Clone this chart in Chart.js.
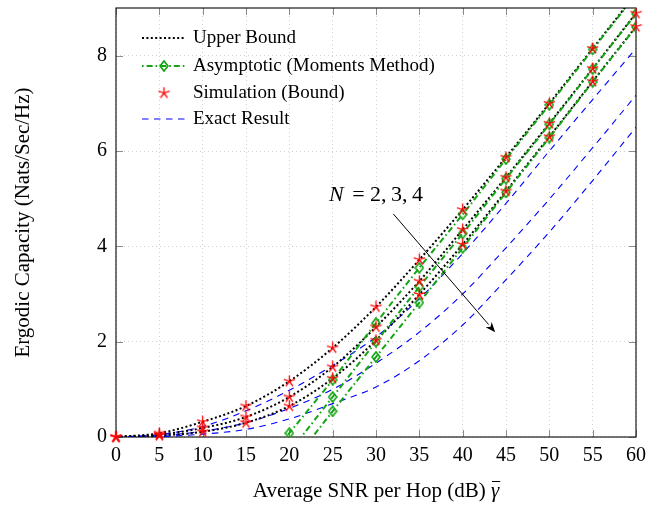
<!DOCTYPE html>
<html>
<head>
<meta charset="utf-8">
<script src="https://cdn.jsdelivr.net/npm/chart.js@4.4.1/dist/chart.umd.min.js"></script>
<style>
  html, body { margin: 0; padding: 0; background: #fff; }
  #wrap { width: 665px; height: 512px; }
</style>
</head>
<body>
<div id="wrap"><canvas id="chart" width="665" height="512"></canvas></div>
<script>
// values (SNR in dB, capacity in nats/s/Hz)
const snrDb = [0, 5, 10, 15, 20, 25, 30, 35, 40, 45, 50, 55, 60];

const upperBoundN2 = [0, 0.08, 0.32, 0.65, 1.17, 1.87, 2.73, 3.72, 4.77, 5.87, 7.00, 8.15, 9.30];
const upperBoundN3 = [0, 0.05, 0.19, 0.42, 0.84, 1.47, 2.31, 3.27, 4.35, 5.45, 6.58, 7.73, 8.89];
const upperBoundN4 = [0, 0.03, 0.11, 0.30, 0.65, 1.23, 2.03, 2.99, 4.04, 5.16, 6.30, 7.46, 8.61];

const simulationN2 = [0, 0.08, 0.32, 0.65, 1.17, 1.87, 2.73, 3.72, 4.77, 5.87, 7.00, 8.15, 9.30];
const simulationN3 = [0, 0.05, 0.19, 0.42, 0.84, 1.47, 2.31, 3.27, 4.35, 5.45, 6.58, 7.73, 8.89];
const simulationN4 = [0, 0.03, 0.11, 0.30, 0.65, 1.23, 2.03, 2.99, 4.04, 5.16, 6.30, 7.46, 8.61];

const asymptoticSnrN2 = [15, 20, 25, 30, 35, 40, 45, 50, 55, 60];
const asymptoticN2 = [-1.07, 0.08, 1.20, 2.39, 3.55, 4.67, 5.83, 6.97, 8.13, 9.28];
const asymptoticSnrN34 = [20, 25, 30, 35, 40, 45, 50, 55, 60];
const asymptoticN3 = [-0.32, 0.84, 2.00, 3.15, 4.27, 5.42, 6.56, 7.72, 8.88];
const asymptoticN4 = [-0.62, 0.54, 1.68, 2.82, 3.97, 5.13, 6.28, 7.45, 8.60];

const exactN2 = [0, 0.05, 0.22, 0.55, 0.98, 1.50, 2.10, 2.90, 3.85, 4.90, 6.00, 7.08, 8.15];
const exactN3 = [0, 0.03, 0.12, 0.30, 0.60, 1.00, 1.55, 2.20, 3.00, 3.97, 4.99, 6.07, 7.17];
const exactN4 = [0, 0.01, 0.06, 0.16, 0.38, 0.70, 1.05, 1.60, 2.35, 3.30, 4.30, 5.38, 6.50];

const xTickValues = [0, 5, 10, 15, 20, 25, 30, 35, 40, 45, 50, 55, 60];
const yTickValues = [0, 2, 4, 6, 8];

// annotation arrow, in data units
const arrowFrom = { x: 32.0, y: 4.68 };
const arrowTo = { x: 43.75, y: 2.2 };
const arrowLabelAt = { x: 30.0, y: 5.1 };

const serif = '"Liberation Serif", "DejaVu Serif", serif';
const GREEN = 'rgb(20,165,20)';
const BLUE = 'rgb(0,0,255)';
const RED = 'rgb(255,0,0)';

const pts = (xs, ys) => xs.map((x, i) => ({ x: x, y: ys[i] }));

function makeStar(size, color) {
    const c = document.createElement('canvas');
    c.width = c.height = size;
    const g = c.getContext('2d');
    const m = size / 2, r = size / 2 - 0.6;
    g.strokeStyle = color;
    g.lineWidth = 1.3;
    g.beginPath();
    for (let k = 0; k < 5; k++) {
        const a = -Math.PI / 2 + k * 2 * Math.PI / 5;
        g.moveTo(m, m);
        g.lineTo(m + r * Math.cos(a), m + r * Math.sin(a));
    }
    g.stroke();
    return c;
}

function makeDiamond(w, h, color) {
    const c = document.createElement('canvas');
    c.width = w; c.height = h;
    const g = c.getContext('2d');
    g.strokeStyle = color;
    g.lineWidth = 1.7;
    g.beginPath();
    g.moveTo(w / 2, 1); g.lineTo(w - 1, h / 2); g.lineTo(w / 2, h - 1); g.lineTo(1, h / 2);
    g.closePath();
    g.stroke();
    return c;
}

const starMark = makeStar(13, RED);
const diamondMark = makeDiamond(10, 12, GREEN);

const boundStyle = { borderColor: '#000', borderWidth: 2, borderDash: [2, 2.4], pointRadius: 0 };
const asymStyle = { borderColor: GREEN, borderWidth: 2, borderDash: [6, 3, 1.6, 3], pointStyle: diamondMark, pointRadius: 5 };
const exactStyle = { borderColor: BLUE, borderWidth: 1.1, borderDash: [6.5, 5.5], pointRadius: 0 };
const simStyle = { showLine: false, pointStyle: starMark, pointRadius: 5, clip: { left: 8, top: 0, right: 8, bottom: 8 } };

const datasets = [
    Object.assign({ label: 'sim2', data: pts(snrDb, simulationN2), order: 1 }, simStyle),
    Object.assign({ label: 'sim3', data: pts(snrDb, simulationN3), order: 1 }, simStyle),
    Object.assign({ label: 'sim4', data: pts(snrDb, simulationN4), order: 1 }, simStyle),
    Object.assign({ label: 'asy2', data: pts(asymptoticSnrN2, asymptoticN2), order: 2 }, asymStyle),
    Object.assign({ label: 'asy3', data: pts(asymptoticSnrN34, asymptoticN3), order: 2 }, asymStyle),
    Object.assign({ label: 'asy4', data: pts(asymptoticSnrN34, asymptoticN4), order: 2 }, asymStyle),
    Object.assign({ label: 'ub2', data: pts(snrDb, upperBoundN2), order: 3 }, boundStyle),
    Object.assign({ label: 'ub3', data: pts(snrDb, upperBoundN3), order: 3 }, boundStyle),
    Object.assign({ label: 'ub4', data: pts(snrDb, upperBoundN4), order: 3 }, boundStyle),
    Object.assign({ label: 'ex2', data: pts(snrDb, exactN2), order: 4 }, exactStyle),
    Object.assign({ label: 'ex3', data: pts(snrDb, exactN3), order: 4 }, exactStyle),
    Object.assign({ label: 'ex4', data: pts(snrDb, exactN4), order: 4 }, exactStyle),
];

// frame with inward ticks, like pgfplots
const framePlugin = {
    id: 'frame',
    beforeDatasetsDraw(chart) {
        const { ctx, chartArea: a, scales } = chart;
        ctx.save();
        ctx.strokeStyle = '#8c8c8c';
        ctx.lineWidth = 1;
        const len = 7;
        ctx.beginPath();
        xTickValues.forEach(v => {
            const px = Math.round(scales.x.getPixelForValue(v)) + 0.5;
            ctx.moveTo(px, a.bottom); ctx.lineTo(px, a.bottom - len);
            ctx.moveTo(px, a.top); ctx.lineTo(px, a.top + len);
        });
        yTickValues.forEach(v => {
            const py = Math.round(scales.y.getPixelForValue(v)) + 0.5;
            ctx.moveTo(a.left, py); ctx.lineTo(a.left + len, py);
            ctx.moveTo(a.right, py); ctx.lineTo(a.right - len, py);
        });
        ctx.stroke();
        ctx.strokeStyle = '#1a1a1a';
        ctx.lineWidth = 1.2;
        ctx.strokeRect(a.left, a.top, a.right - a.left, a.bottom - a.top);
        ctx.restore();
    }
};

const overlayPlugin = {
    id: 'overlay',
    afterDraw(chart) {
        const { ctx, chartArea: a, scales } = chart;
        ctx.save();

        // legend
        const x0 = a.left + 26, x1 = a.left + 70, xm = (x0 + x1) / 2, tx = a.left + 77;
        const rows = [a.top + 30, a.top + 58, a.top + 85, a.top + 111];
        ctx.font = '19px ' + serif;
        ctx.fillStyle = '#000';
        ctx.textBaseline = 'middle';
        ctx.textAlign = 'left';

        ctx.strokeStyle = '#000'; ctx.lineWidth = 2; ctx.setLineDash([2, 2.4]);
        ctx.beginPath(); ctx.moveTo(x0, rows[0]); ctx.lineTo(x1, rows[0]); ctx.stroke();
        ctx.fillText('Upper Bound', tx, rows[0]);

        ctx.strokeStyle = GREEN; ctx.lineWidth = 2; ctx.setLineDash([6, 3, 1.6, 3]); ctx.lineDashOffset = 9;
        ctx.beginPath(); ctx.moveTo(x0, rows[1]); ctx.lineTo(x1, rows[1]); ctx.stroke();
        ctx.setLineDash([]); ctx.lineDashOffset = 0;
        ctx.drawImage(diamondMark, xm - diamondMark.width / 2, rows[1] - diamondMark.height / 2);
        ctx.fillText('Asymptotic (Moments Method)', tx, rows[1]);

        ctx.drawImage(starMark, xm - starMark.width / 2, rows[2] - starMark.height / 2);
        ctx.fillText('Simulation (Bound)', tx, rows[2]);

        ctx.strokeStyle = BLUE; ctx.lineWidth = 1.1; ctx.setLineDash([6.5, 5.5]);
        ctx.beginPath(); ctx.moveTo(x0, rows[3]); ctx.lineTo(x1, rows[3]); ctx.stroke();
        ctx.setLineDash([]);
        ctx.fillText('Exact Result', tx, rows[3]);

        // x axis title with an overlined gamma
        ctx.font = '21px ' + serif;
        ctx.textBaseline = 'alphabetic';
        const main = 'Average SNR per Hop (dB) ';
        const wMain = ctx.measureText(main).width;
        ctx.font = 'italic 21px ' + serif;
        const wG = ctx.measureText('\u03B3').width;
        const tX = (a.left + a.right) / 2 - (wMain + wG) / 2, tY = 497;
        ctx.font = '21px ' + serif;
        ctx.fillText(main, tX, tY);
        ctx.font = 'italic 21px ' + serif;
        ctx.fillText('\u03B3', tX + wMain, tY);
        ctx.strokeStyle = '#000'; ctx.lineWidth = 1;
        ctx.beginPath();
        ctx.moveTo(tX + wMain + 1, tY - 15.5); ctx.lineTo(tX + wMain + wG + 1, tY - 15.5);
        ctx.stroke();

        // N = 2, 3, 4 label and arrow
        const lx = scales.x.getPixelForValue(arrowLabelAt.x);
        const ly = scales.y.getPixelForValue(arrowLabelAt.y);
        ctx.font = 'italic 22px ' + serif;
        const wN = ctx.measureText('N').width;
        ctx.font = '22px ' + serif;
        const rest = '\u2009= 2,\u20093,\u20094';
        const wR = ctx.measureText(rest).width + 4;
        const sx = lx - (wN + wR) / 2;
        ctx.font = 'italic 22px ' + serif;
        ctx.fillText('N', sx, ly + 7);
        ctx.font = '22px ' + serif;
        ctx.fillText(rest, sx + wN + 4, ly + 7);

        const ax0 = scales.x.getPixelForValue(arrowFrom.x), ay0 = scales.y.getPixelForValue(arrowFrom.y);
        const ax1 = scales.x.getPixelForValue(arrowTo.x), ay1 = scales.y.getPixelForValue(arrowTo.y);
        const ang = Math.atan2(ay1 - ay0, ax1 - ax0);
        const hl = 10, hw = 4;
        ctx.strokeStyle = '#000'; ctx.lineWidth = 1;
        ctx.beginPath();
        ctx.moveTo(ax0, ay0);
        ctx.lineTo(ax1 - hl * Math.cos(ang), ay1 - hl * Math.sin(ang));
        ctx.stroke();
        ctx.fillStyle = '#000';
        ctx.beginPath();
        ctx.moveTo(ax1, ay1);
        ctx.lineTo(ax1 - hl * Math.cos(ang) + hw * Math.sin(ang), ay1 - hl * Math.sin(ang) - hw * Math.cos(ang));
        ctx.lineTo(ax1 - hl * 0.7 * Math.cos(ang), ay1 - hl * 0.7 * Math.sin(ang));
        ctx.lineTo(ax1 - hl * Math.cos(ang) - hw * Math.sin(ang), ay1 - hl * Math.sin(ang) + hw * Math.cos(ang));
        ctx.closePath();
        ctx.fill();

        ctx.restore();
    }
};

new Chart(document.getElementById('chart'), {
    type: 'line',
    data: { datasets: datasets },
    options: {
        responsive: false,
        animation: false,
        layout: { padding: { top: 8, right: 29, left: 0, bottom: 0 } },
        elements: { line: { cubicInterpolationMode: 'monotone', fill: false } },
        plugins: { legend: { display: false }, tooltip: { enabled: false } },
        scales: {
            x: {
                type: 'linear', min: 0, max: 60,
                afterBuildTicks: s => { s.ticks = xTickValues.map(v => ({ value: v })); },
                afterFit: s => { s.height = 75; s.paddingLeft = 0; s.paddingRight = 0; },
                ticks: { font: { family: serif, size: 20 }, color: '#000', padding: 7, maxRotation: 0 },
                grid: { color: '#c4c4c4', lineWidth: 0.8, drawTicks: false },
                border: { display: false, dash: [1, 3] }
            },
            y: {
                type: 'linear', min: 0, max: 9,
                afterBuildTicks: s => { s.ticks = yTickValues.map(v => ({ value: v })); },
                afterFit: s => { s.width = 116; s.paddingTop = 0; s.paddingBottom = 0; },
                ticks: { font: { family: serif, size: 20 }, color: '#000', padding: 9 },
                grid: { color: '#c4c4c4', lineWidth: 0.8, drawTicks: false },
                border: { display: false, dash: [1, 3] },
                title: { display: true, text: 'Ergodic Capacity (Nats/Sec/Hz)', color: '#000',
                         font: { family: serif, size: 21 }, padding: { top: 11, bottom: 0 } }
            }
        }
    },
    plugins: [framePlugin, overlayPlugin]
});
</script>
</body>
</html>
